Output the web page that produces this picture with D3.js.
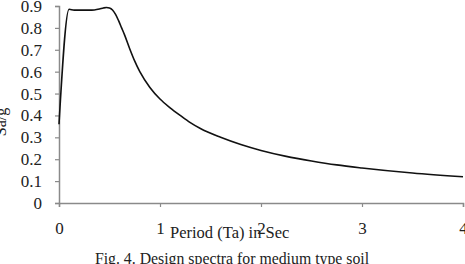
<!DOCTYPE html>
<html><head><meta charset="utf-8">
<script src="https://cdn.jsdelivr.net/npm/d3@7"></script>
<style>
html,body{margin:0;padding:0;background:#fff;overflow:hidden;}
text{font-family:"Liberation Serif","Times New Roman",serif;fill:#222;}
</style></head>
<body><svg id="c" width="465" height="264"></svg>
<script>
const periods = [0,0.1,0.15,0.2,0.3,0.35,0.4,0.44,0.47,0.5,0.53,0.56,0.59,0.62,0.65,0.7,0.75,0.8,0.9,1.0,1.1,1.2,1.3,1.4,1.6,1.8,2.0,2.25,2.5,2.75,3.0,3.5,4.0];
const sag     = [0.36,0.885,0.881,0.881,0.881,0.882,0.886,0.891,0.893,0.891,0.882,0.862,0.833,0.80,0.767,0.705,0.648,0.60,0.528,0.475,0.435,0.40,0.367,0.34,0.30,0.267,0.24,0.213,0.192,0.174,0.16,0.137,0.12];
const xTicks = [0,1,2,3,4];
const yTicks = [0,0.1,0.2,0.3,0.4,0.5,0.6,0.7,0.8,0.9];
const xTitle = "Period  (Ta) in Sec";
const yTitle = "Sa/g";
const caption = "Fig. 4. Design spectra for medium type soil";

const svg = d3.select("#c");
const x = d3.scaleLinear().domain([0,4]).range([59,463]);
const y = d3.scaleLinear().domain([0,0.9]).range([203,6]);
const axisColor = "#8a8a8a";

// y axis
const ya = svg.append("g").attr("transform","translate(59,0)")
  .call(d3.axisLeft(y).tickValues(yTicks).tickSize(4).tickPadding(13).tickFormat(d=>d===0?"0":d3.format(".1f")(d)));
ya.select(".domain").attr("stroke",axisColor).attr("stroke-width",1.5);
ya.selectAll(".tick line").attr("stroke",axisColor).attr("stroke-width",1.2);
ya.selectAll(".tick text").style("font-size","17px").attr("fill","#222");

// x axis
const xa = svg.append("g").attr("transform","translate(0,203)")
  .call(d3.axisBottom(x).tickValues(xTicks).tickSize(4).tickPadding(15).tickFormat(d3.format("d")));
xa.select(".domain").attr("stroke",axisColor).attr("stroke-width",1.5);
xa.selectAll(".tick line").attr("stroke",axisColor).attr("stroke-width",1.2);
xa.selectAll(".tick text").style("font-size","17px").attr("fill","#222");

// curve
const pts = periods.map((p,i)=>[p,sag[i]]);
svg.append("path").datum(pts)
  .attr("fill","none").attr("stroke","#111").attr("stroke-width",1.6)
  .attr("d", d3.line().x(d=>x(d[0])).y(d=>y(d[1])).curve(d3.curveMonotoneX));

// titles
svg.append("text").attr("x",170).attr("y",238).style("font-size","16.5px").text(xTitle);
svg.append("text").attr("transform","translate(6,122) rotate(-90)").attr("text-anchor","middle")
  .style("font-size","16px").text(yTitle);
svg.append("text").attr("x",232).attr("y",264).attr("text-anchor","middle").style("font-size","15.8px").text(caption);
</script></body></html>
